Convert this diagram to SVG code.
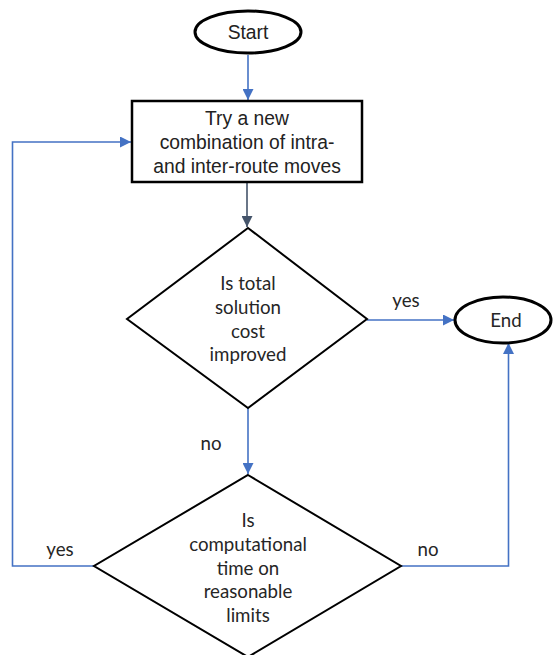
<svg xmlns="http://www.w3.org/2000/svg" width="553" height="655" viewBox="0 0 553 655">
  <style>
    .shape { fill: #ffffff; stroke: #000000; stroke-width: 2; }
    .term { fill: #ffffff; stroke: #000000; stroke-width: 3; }
    .box { fill: #ffffff; stroke: #000000; stroke-width: 2.5; }
    .arial { font-family: "Liberation Sans", Arial, sans-serif; font-size: 19.3px; fill: #222222; text-anchor: middle; }
    .cal { font-family: Lato, "Open Sans", sans-serif; font-size: 18.7px; fill: #262626; text-anchor: middle; }
    .link { fill: none; stroke: #4472C4; stroke-width: 1.6; }
    .dark { fill: none; stroke: #44546A; stroke-width: 1.6; }
  </style>
  <defs>
    <marker id="arrowBlue" viewBox="0 0 10 10" refX="10" refY="5" markerWidth="12" markerHeight="11" markerUnits="userSpaceOnUse" orient="auto">
      <path d="M0,0 L10,5 L0,10 z" fill="#4472C4"/>
    </marker>
    <marker id="arrowDark" viewBox="0 0 10 10" refX="10" refY="5" markerWidth="12" markerHeight="11" markerUnits="userSpaceOnUse" orient="auto">
      <path d="M0,0 L10,5 L0,10 z" fill="#44546A"/>
    </marker>
  </defs>

  <!-- connectors -->
  <g id="connectors">
    <path class="link" d="M248,55 L248,100"  marker-end="url(#arrowBlue)"/>
    <path class="dark" d="M247,183 L247,227" marker-end="url(#arrowDark)"/>
    <path class="link" d="M367,320 L454,320" marker-end="url(#arrowBlue)"/>
    <path class="link" d="M248,408 L248,474" marker-end="url(#arrowBlue)"/>
    <path class="link" d="M94,566 L12.5,566 L12.5,142 L131,142" marker-end="url(#arrowBlue)"/>
    <path class="link" d="M401,566 L508.5,566 L508.5,343" marker-end="url(#arrowBlue)"/>
    <text class="cal" x="406" y="307">yes</text>
    <text class="cal" x="211" y="450">no</text>
    <text class="cal" x="60" y="556">yes</text>
    <text class="cal" x="428" y="556">no</text>
  </g>

  <g id="start">
    <ellipse class="term" cx="248" cy="32" rx="53" ry="21"/>
    <text class="arial" x="248" y="39">Start</text>
  </g>

  <g id="try-moves">
    <rect class="box" x="132" y="101" width="230" height="81"/>
    <text class="arial" x="247" y="125">Try a new</text>
    <text class="arial" x="247" y="149">combination of intra-</text>
    <text class="arial" x="247" y="173">and inter-route moves</text>
  </g>

  <g id="cost-check">
    <polygon class="shape" points="248,228 367,319 248,408 127,319"/>
    <text class="cal" x="248" y="290">Is total</text>
    <text class="cal" x="248" y="314">solution</text>
    <text class="cal" x="248" y="338">cost</text>
    <text class="cal" x="248" y="361">improved</text>
  </g>

  <g id="end">
    <ellipse class="term" cx="503" cy="320" rx="48" ry="23"/>
    <text class="cal" x="506" y="327">End</text>
  </g>

  <g id="time-check">
    <polygon class="shape" points="248,475 401,566 248,657 94,566"/>
    <text class="cal" x="248" y="527">Is</text>
    <text class="cal" x="248" y="551">computational</text>
    <text class="cal" x="248" y="575">time on</text>
    <text class="cal" x="248" y="598">reasonable</text>
    <text class="cal" x="248" y="622">limits</text>
  </g>
</svg>
